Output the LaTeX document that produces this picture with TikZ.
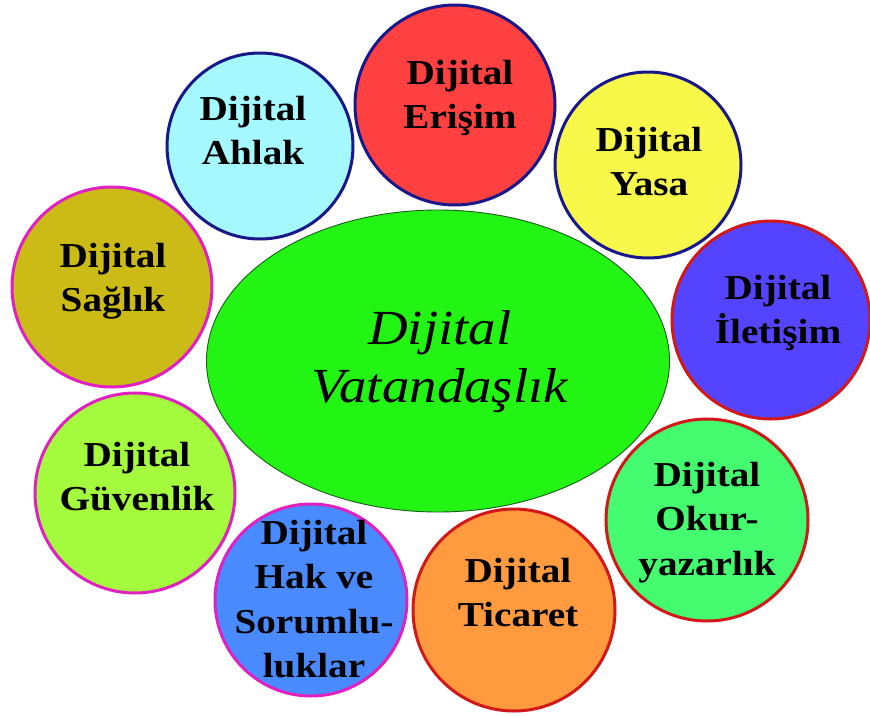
\documentclass[tikz,border=0pt]{standalone}
\usepackage{fontspec}
\setmainfont{Liberation Serif}[FakeStretch=1.12]
\usetikzlibrary{shapes.geometric}

\definecolor{navyrim}{HTML}{18188A}
\definecolor{redrim}{HTML}{D21818}
\definecolor{pinkrim}{HTML}{E020C0}
\definecolor{greenrim}{HTML}{1E5A1E}
\definecolor{cRed}{HTML}{FF4040}
\definecolor{cCyan}{HTML}{A6F8FF}
\definecolor{cYellow}{HTML}{F8F84A}
\definecolor{cOlive}{HTML}{CCBB16}
\definecolor{cViolet}{HTML}{5544FF}
\definecolor{cLime}{HTML}{A4FA3C}
\definecolor{cMint}{HTML}{44FA6E}
\definecolor{cBlue}{HTML}{4A8AFF}
\definecolor{cOrange}{HTML}{FF9A3E}
\definecolor{cCore}{HTML}{22F514}

\begin{document}
\begin{tikzpicture}[x=1pt,y=-1pt,
  bubble/.style={circle,draw,line width=3pt,inner sep=0pt,minimum size=#1},
  words/.style={anchor=north,align=center,inner sep=0pt,text=black,
    font=\bfseries\fontsize{35}{44.5}\selectfont},
  corewords/.style={anchor=north,align=center,inner sep=0pt,text=black,
    font=\itshape\fontsize{49}{58}\selectfont}]

% page frame
\fill[white] (0,0) rectangle (870,715);
\useasboundingbox (0,0) rectangle (870,715);

% surrounding topics
\node[bubble=200pt,draw=navyrim,fill=cRed]    (erisim)   at (455,105) {};
\node[bubble=186pt,draw=navyrim,fill=cCyan]   (ahlak)    at (260,146) {};
\node[bubble=186pt,draw=navyrim,fill=cYellow] (yasa)     at (648,165) {};
\node[bubble=198pt,draw=redrim,fill=cViolet]  (iletisim) at (771,320) {};
\node[bubble=200pt,draw=pinkrim,fill=cOlive]  (saglik)   at (112,287) {};
\node[bubble=200pt,draw=pinkrim,fill=cLime]   (guvenlik) at (135,493) {};
\node[bubble=202pt,draw=redrim,fill=cMint]    (okur)     at (707,520) {};
\node[bubble=192pt,draw=pinkrim,fill=cBlue]   (hak)      at (311,600) {};
\node[bubble=202pt,draw=redrim,fill=cOrange]  (ticaret)  at (514,610) {};

% central ellipse
\node[ellipse,draw=greenrim,line width=0.9pt,fill=cCore,inner sep=0pt,
      minimum width=463pt,minimum height=302pt] (core) at (438,361) {};

% labels
\node[words] (erisim-t)   at (460,60)  {Dijital\\Erişim};
\node[words] (ahlak-t)    at (253,96)  {Dijital\\Ahlak};
\node[words] (yasa-t)     at (649,127) {Dijital\\Yasa};
\node[words] (iletisim-t) at (778,275) {Dijital\\İletişim};
\node[words] (saglik-t)   at (113,243) {Dijital\\Sağlık};
\node[words] (guvenlik-t) at (137,442) {Dijital\\Güvenlik};
\node[words] (okur-t)     at (707,462) {Dijital\\Okur-\\yazarlık};
\node[words] (hak-t)      at (314,520) {Dijital\\Hak ve\\Sorumlu-\\luklar};
\node[words] (ticaret-t)  at (518,558) {Dijital\\Ticaret};
\node[corewords] (core-t) at (440,310) {Dijital\\Vatandaşlık};

\end{tikzpicture}
\end{document}
